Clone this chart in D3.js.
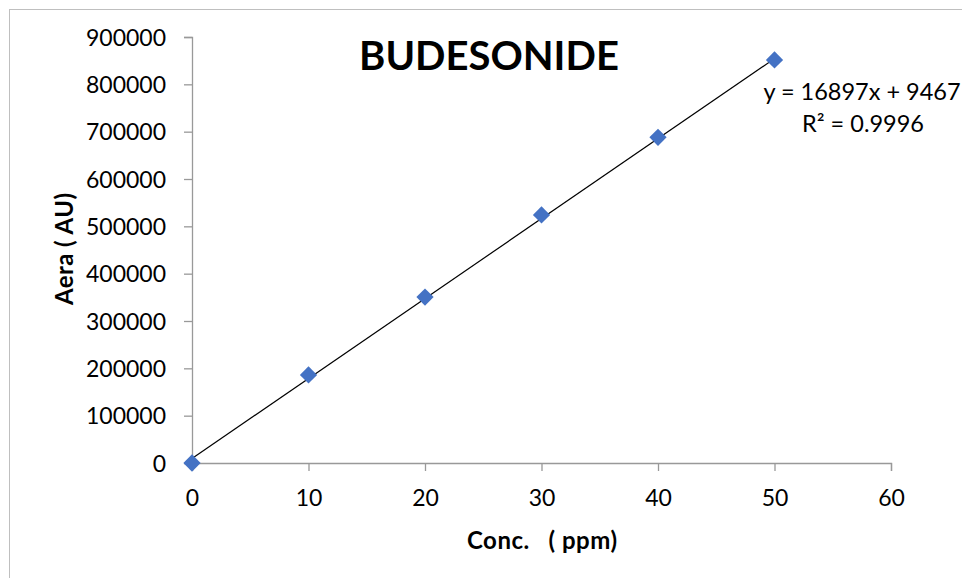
<!DOCTYPE html>
<html><head><meta charset="utf-8">
<script src="https://cdn.jsdelivr.net/npm/d3@7"></script>
<style>body{margin:0;background:#fff}svg{display:block}</style>
</head><body>
<svg id="c" width="962" height="578"></svg>
<script>
const conc = [0, 10, 20, 30, 40, 50];
const area = [0, 186000, 350500, 524000, 688000, 851500];
const xTicks = [0, 10, 20, 30, 40, 50, 60];
const yTicks = [0, 100000, 200000, 300000, 400000, 500000, 600000, 700000, 800000, 900000];
const slope = 16897, intercept = 9467;
const titleText = "BUDESONIDE";
const eqText = "y = 16897x + 9467";
const r2Text = "R² = 0.9996";
const xTitle = "Conc.   ( ppm)";
const yTitle = "Aera ( AU)";

const svg = d3.select("#c");
const font = "Lato, 'Open Sans', sans-serif";
svg.append("rect").attr("x", 9.5).attr("y", 9.5).attr("width", 1000).attr("height", 1000)
  .attr("fill", "#fff").attr("stroke", "#bfbfbf").attr("stroke-width", 1);

const x = d3.scaleLinear().domain([0, 60]).range([192, 891]);
const y = d3.scaleLinear().domain([0, 900000]).range([463, 37]);

const gx = svg.append("g").attr("transform", "translate(0,463)")
  .call(d3.axisBottom(x).tickValues(xTicks).tickSize(8).tickPadding(19).tickFormat(d3.format("d")));
const gy = svg.append("g").attr("transform", "translate(192,0)")
  .call(d3.axisLeft(y).tickValues(yTicks).tickSize(8).tickPadding(18).tickFormat(d3.format("d")));
[gx, gy].forEach(g => {
  g.select(".domain").attr("stroke", "#999").attr("stroke-width", 1.3);
  g.selectAll(".tick line").attr("stroke", "#999").attr("stroke-width", 1.3);
  g.selectAll(".tick text").attr("fill", "#000").attr("font-family", font).attr("font-size", 23);
});
gy.selectAll(".tick text").attr("dy", "0.36em");

// trendline
svg.append("line")
  .attr("x1", x(0)).attr("y1", y(intercept))
  .attr("x2", x(50)).attr("y2", y(slope * 50 + intercept))
  .attr("stroke", "#000").attr("stroke-width", 1.2);

// markers
const data = conc.map((c, i) => ({c, a: area[i]}));
svg.append("g").selectAll("path").data(data).join("path")
  .attr("d", d3.symbol(d3.symbolDiamond2, 190)())
  .attr("transform", d => `translate(${x(d.c)},${y(d.a)})`)
  .attr("fill", "#4472c4");

// title
svg.append("text").attr("x", 489).attr("y", 70).attr("text-anchor", "middle")
  .attr("font-family", font).attr("font-weight", "bold").attr("font-size", 40)
  .text(titleText);

// equation
svg.append("text").attr("x", 862).attr("y", 100).attr("text-anchor", "middle")
  .attr("font-family", font).attr("font-size", 23.5).text(eqText);
svg.append("text").attr("x", 863).attr("y", 132).attr("text-anchor", "middle")
  .attr("font-family", font).attr("font-size", 23.5).text(r2Text);

// axis titles
svg.append("text").attr("x", 542).attr("y", 549).attr("text-anchor", "middle")
  .attr("font-family", font).attr("font-weight", "bold").attr("font-size", 24)
  .attr("textLength", 150).attr("lengthAdjust", "spacing")
  .style("white-space", "pre").text(xTitle);
svg.append("text").attr("transform", "translate(73,249) rotate(-90)").attr("text-anchor", "middle")
  .attr("font-family", font).attr("font-weight", "bold").attr("font-size", 24)
  .attr("textLength", 112).attr("lengthAdjust", "spacing")
  .style("white-space", "pre").text(yTitle);
</script>
</body></html>
